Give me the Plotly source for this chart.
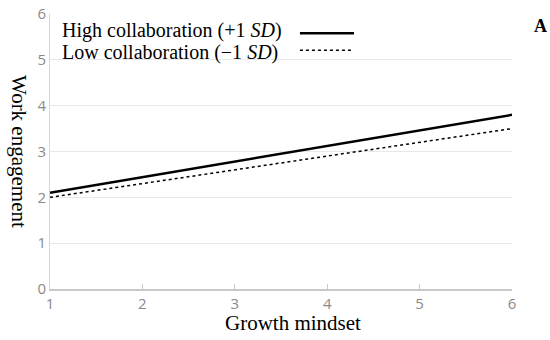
import plotly.graph_objects as go

growth_mindset = [1, 6]
high_collab = [2.1, 3.8]
low_collab = [2.0, 3.5]
series_names = ["High collaboration (+1 <i>SD</i>)", "Low collaboration (−1 <i>SD</i>)"]
x_title = "Growth mindset"
y_title = "Work engagement"
x_ticks = [1, 2, 3, 4, 5, 6]
y_ticks = [0, 1, 2, 3, 4, 5, 6]

serif = "Liberation Serif"
sans = "Open Sans"

fig = go.Figure()
fig.add_trace(go.Scatter(x=growth_mindset, y=high_collab, mode="lines",
                         line=dict(color="black", width=2.5), name=series_names[0], showlegend=False))
fig.add_trace(go.Scatter(x=growth_mindset, y=low_collab, mode="lines",
                         line=dict(color="black", width=1.5, dash="dot"), name=series_names[1], showlegend=False))

# legend drawn as text + line samples
legend_text_y = [0.941, 0.861]
legend_line_y = [0.93, 0.868]
legend_styles = [("solid", 2.5), ("dot", 1.5)]
for ty, ly, (dash, w), name in zip(legend_text_y, legend_line_y, legend_styles, series_names):
    fig.add_annotation(x=0.022, y=ty, xref="paper", yref="paper", text=name, showarrow=False,
                       xanchor="left", yanchor="middle", font=dict(family=serif, size=20, color="black"))
    fig.add_shape(type="line", xref="paper", yref="paper", x0=0.541, x1=0.658, y0=ly, y1=ly,
                  line=dict(color="black", width=w, dash=dash))

fig.add_annotation(x=1.061, y=0.955, xref="paper", yref="paper", text="<b>A</b>", showarrow=False,
                   xanchor="center", yanchor="middle", font=dict(family=serif, size=18, color="black"))

# axis titles (y title reads top-to-bottom as in the reference)
fig.add_annotation(x=0.525, y=-0.125, xref="paper", yref="paper", text=x_title, showarrow=False,
                   xanchor="center", yanchor="middle", font=dict(family=serif, size=21, color="black"))
fig.add_annotation(x=-0.066, y=0.5, xref="paper", yref="paper", text=y_title, showarrow=False,
                   textangle=90, xanchor="center", yanchor="middle",
                   font=dict(family=serif, size=21, color="black"))

fig.update_layout(
    width=550, height=340,
    margin=dict(l=50, r=38, t=14, b=51),
    plot_bgcolor="white", paper_bgcolor="white",
)
fig.update_xaxes(range=[1, 6], tickvals=x_ticks, showgrid=False, zeroline=False, automargin=False,
                 showline=True, linecolor="#c8c8c8", linewidth=1.5,
                 ticks="inside", ticklen=5, tickcolor="#c8c8c8", ticklabeloverflow="allow",
                 tickfont=dict(family=sans, size=15, color="#8a8a8a"))
fig.update_yaxes(range=[0, 6], tickvals=y_ticks, showgrid=True, gridcolor="#e8e8e8", gridwidth=1,
                 zeroline=False, showline=True, linecolor="#d8d8d8", linewidth=1, automargin=False,
                 ticks="", ticklabeloverflow="allow",
                 tickfont=dict(family=sans, size=15, color="#8a8a8a"))

# remove the default page margin so the 550x340 figure fills the window exactly
fig.write_html("out.html", config={"displayModeBar": False},
               post_script="document.body.style.margin='0px';document.body.style.overflow='hidden';")
